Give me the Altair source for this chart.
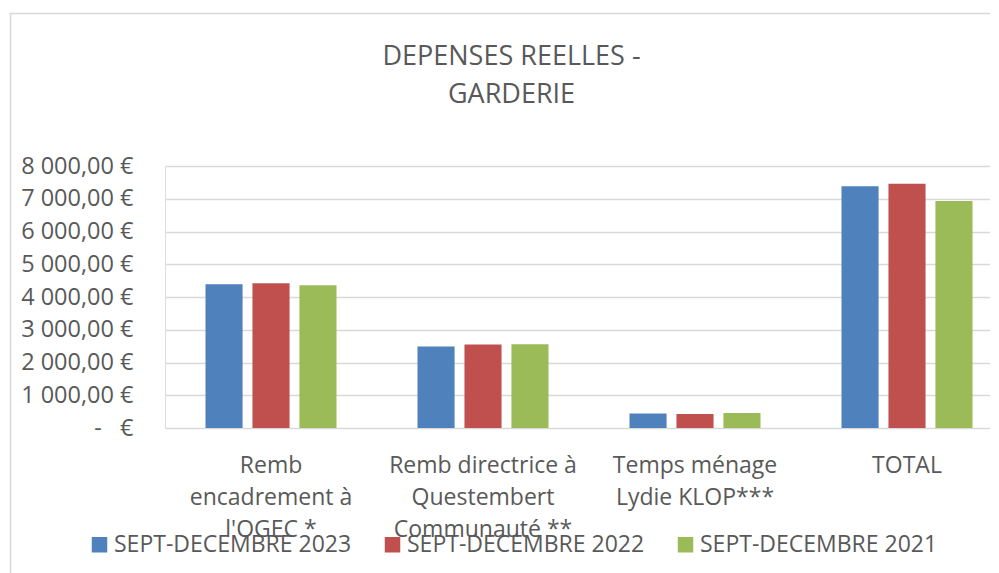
import altair as alt
import pandas as pd

categories = [
    "Remb\nencadrement à\nl'OGEC *",
    "Remb directrice à\nQuestembert\nCommunauté **",
    "Temps ménage\nLydie KLOP***",
    "TOTAL",
]
series = ["SEPT-DECEMBRE 2023", "SEPT-DECEMBRE 2022", "SEPT-DECEMBRE 2021"]
values_2023 = [4390, 2490, 440, 7380]
values_2022 = [4420, 2550, 430, 7460]
values_2021 = [4360, 2560, 460, 6930]
colors = ["#4f81bd", "#c0504d", "#9bbb59"]
y_ticks = [0, 1000, 2000, 3000, 4000, 5000, 6000, 7000, 8000]

rows = []
for s, vals in zip(series, [values_2023, values_2022, values_2021]):
    for c, v in zip(categories, vals):
        rows.append({"cat": c, "series": s, "value": v})
df = pd.DataFrame(rows)

FONT = "Open Sans"
GREY = "#595959"

y_label_expr = (
    "datum.value == 0 ? '-\u00a0\u00a0\u00a0€' : "
    "replace(replace(format(datum.value, ',.2f'), ',', ' '), '.', ',') + ' €'"
)

bars = alt.Chart(df).mark_bar().encode(
    x=alt.X(
        "cat:N",
        sort=categories,
        scale=alt.Scale(range=[0, 848], paddingInner=0.382, paddingOuter=0.191),
        axis=alt.Axis(
            title=None,
            domain=False,
            ticks=False,
            grid=False,
            labelAngle=0,
            labelExpr="split(datum.value, '\\n')",
            labelFont=FONT,
            labelFontSize=23,
            labelColor=GREY,
            labelLineHeight=32,
            labelPadding=26,
            labelLimit=300,
        ),
    ),
    xOffset=alt.XOffset("series:N", sort=series, scale=alt.Scale(paddingInner=0.21)),
    y=alt.Y(
        "value:Q",
        scale=alt.Scale(domain=[0, 8000], nice=False),
        axis=alt.Axis(
            title=None,
            values=y_ticks,
            domain=False,
            ticks=False,
            grid=True,
            gridColor="#d9d9d9",
            gridWidth=1.5,
            labelExpr=y_label_expr,
            labelFont=FONT,
            labelFontSize=23.5,
            labelColor=GREY,
            labelPadding=32,
        ),
    ),
    color=alt.Color(
        "series:N",
        sort=series,
        scale=alt.Scale(domain=series, range=colors),
        legend=alt.Legend(
            title=None,
            orient="none",
            direction="horizontal",
            columns=3,
            legendX=-77,
            legendY=367,
            symbolType="square",
            symbolSize=240,
            symbolStrokeWidth=0,
            labelFont=FONT,
            labelFontSize=23,
            labelColor=GREY,
            labelOffset=3,
            columnPadding=29,
            labelLimit=400,
        ),
    ),
)

border = alt.Chart(pd.DataFrame({"a": [0]})).mark_rect(
    fill=None, stroke="#d9d9d9", strokeWidth=1.5
).encode(
    x=alt.value(-154.5), x2=alt.value(1200), y=alt.value(-152.5), y2=alt.value(1000)
)

chart = alt.layer(border, bars).properties(
    width=825,
    height=262,
    autosize=alt.AutoSizeParams(type="none"),
    padding={"left": 157, "top": 158, "right": 0, "bottom": 145},
    title=alt.TitleParams(
        text=["DEPENSES REELLES -", "GARDERIE"],
        font=FONT,
        fontSize=27,
        fontWeight="normal",
        color=GREY,
        lineHeight=38,
        anchor="middle",
        dx=-66,
        offset=-96,
    ),
).configure_view(stroke=None).configure(background="white")

chart.save("out.html", embed_options={"renderer": "svg", "actions": False})
